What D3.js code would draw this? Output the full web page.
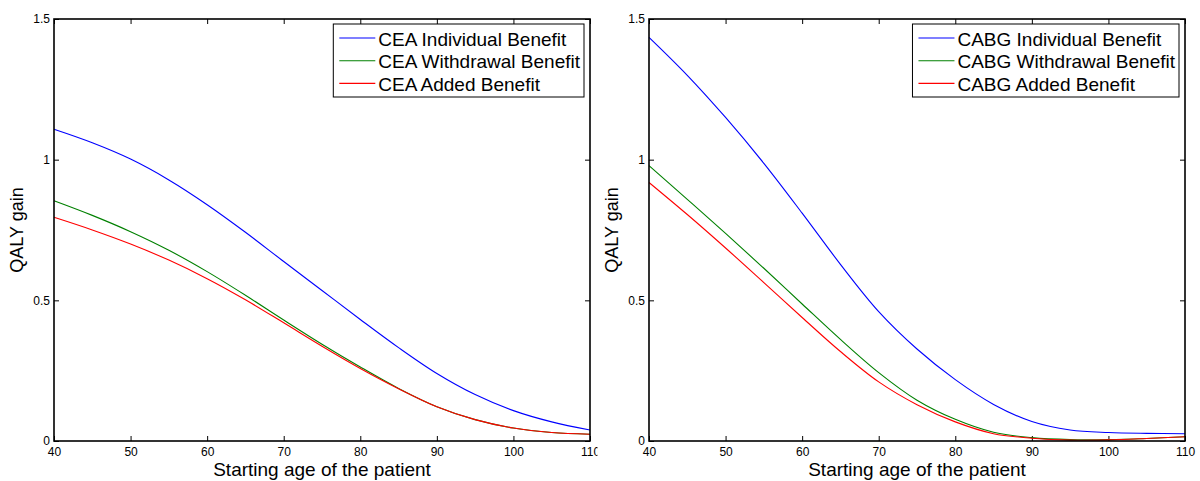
<!DOCTYPE html>
<html>
<head>
<meta charset="utf-8">
<script src="https://cdn.jsdelivr.net/npm/d3@7"></script>
<style>
  html, body { margin: 0; padding: 0; background: #fff; }
  svg { display: block; font-family: "Liberation Sans", Arial, Helvetica, sans-serif; }
</style>
</head>
<body>
<svg id="fig" width="1200" height="481"></svg>
<script>
// Starting ages (years) at which QALY gains were evaluated
const ages = [40, 45, 50, 55, 60, 65, 70, 75, 80, 85, 90, 95, 100, 105, 110];

// Carotid endarterectomy (CEA)
const ceaIndividual = [1.108, 1.060, 1.002, 0.928, 0.840, 0.742, 0.638, 0.535, 0.432, 0.332, 0.240, 0.165, 0.108, 0.068, 0.039];
const ceaWithdrawal = [0.854, 0.802, 0.744, 0.678, 0.602, 0.518, 0.430, 0.344, 0.263, 0.187, 0.122, 0.076, 0.046, 0.030, 0.024];
const ceaAdded      = [0.795, 0.750, 0.700, 0.643, 0.577, 0.502, 0.420, 0.337, 0.258, 0.186, 0.122, 0.076, 0.046, 0.030, 0.024];

// Coronary artery bypass graft (CABG)
const cabgIndividual = [1.435, 1.300, 1.150, 0.987, 0.810, 0.628, 0.460, 0.327, 0.218, 0.130, 0.069, 0.039, 0.030, 0.027, 0.026];
const cabgWithdrawal = [0.979, 0.859, 0.738, 0.614, 0.487, 0.361, 0.243, 0.145, 0.077, 0.031, 0.012, 0.005, 0.005, 0.009, 0.015];
const cabgAdded      = [0.919, 0.805, 0.686, 0.563, 0.439, 0.318, 0.210, 0.129, 0.068, 0.026, 0.010, 0.003, 0.004, 0.009, 0.015];

const ceaLabels  = ["CEA Individual Benefit", "CEA Withdrawal Benefit", "CEA Added Benefit"];
const cabgLabels = ["CABG Individual Benefit", "CABG Withdrawal Benefit", "CABG Added Benefit"];

const xTicks = [40, 50, 60, 70, 80, 90, 100, 110];
const yTicks = [0, 0.5, 1, 1.5];
const xDomain = [40, 110];
const yDomain = [0, 1.5];

const seriesColors = ["#0000ff", "#008000", "#ff0000"];
const xTitle = "Starting age of the patient";
const yTitle = "QALY gain";

const svg = d3.select("#fig");

// Left panel's tick labels run past its own image edge; clip them there
svg.append("defs").append("clipPath").attr("id", "leftClip")
  .append("rect").attr("x", 0).attr("y", 0).attr("width", 597.5).attr("height", 481);

function drawPanel(box, seriesList, labels, clipId) {
  const g = svg.append("g");
  if (clipId) g.attr("clip-path", `url(#${clipId})`);

  const x = d3.scaleLinear().domain(xDomain).range([box.x0, box.x1]);
  const y = d3.scaleLinear().domain(yDomain).range([box.y1, box.y0]);
  const fmt = d => String(d);

  const tickLen = 5;
  const styleAxis = sel => {
    sel.select(".domain").remove();
    sel.selectAll(".tick line").attr("stroke", "#000").attr("stroke-width", 1);
    sel.selectAll(".tick text").attr("fill", "#000").style("font-size", "12px")
      .style("font-family", "\"Liberation Sans\", Arial, sans-serif");
  };

  // Bottom and left axes with inward ticks and labels
  g.append("g").attr("transform", `translate(0,${box.y1})`)
    .call(d3.axisBottom(x).tickValues(xTicks).tickFormat(fmt).tickSizeInner(-tickLen).tickSizeOuter(0).tickPadding(6))
    .call(styleAxis);
  g.append("g").attr("transform", `translate(${box.x0},0)`)
    .call(d3.axisLeft(y).tickValues(yTicks).tickFormat(fmt).tickSizeInner(-tickLen).tickSizeOuter(0).tickPadding(4))
    .call(styleAxis);
  // Mirrored ticks on top and right
  g.append("g").attr("transform", `translate(0,${box.y0})`)
    .call(d3.axisTop(x).tickValues(xTicks).tickFormat("").tickSizeInner(-tickLen).tickSizeOuter(0))
    .call(styleAxis);
  g.append("g").attr("transform", `translate(${box.x1},0)`)
    .call(d3.axisRight(y).tickValues(yTicks).tickFormat("").tickSizeInner(-tickLen).tickSizeOuter(0))
    .call(styleAxis);

  // Curves
  const line = d3.line()
    .x((d, i) => x(ages[i]))
    .y(d => y(d))
    .curve(d3.curveCatmullRom.alpha(0.5));
  seriesList.forEach((s, k) => {
    g.append("path").datum(s)
      .attr("d", line)
      .attr("fill", "none")
      .attr("stroke", seriesColors[k])
      .attr("stroke-width", 1.1);
  });

  // Axes box
  g.append("rect")
    .attr("x", box.x0).attr("y", box.y0)
    .attr("width", box.x1 - box.x0).attr("height", box.y1 - box.y0)
    .attr("fill", "none").attr("stroke", "#000").attr("stroke-width", 1.6);

  // Axis titles
  g.append("text")
    .attr("x", (box.x0 + box.x1) / 2).attr("y", box.y1 + 35)
    .attr("text-anchor", "middle").style("font-size", "19px").attr("fill", "#000")
    .text(xTitle);
  g.append("text")
    .attr("transform", `translate(${box.x0 - 31},${(box.y0 + box.y1) / 2}) rotate(-90)`)
    .attr("text-anchor", "middle").style("font-size", "18px").attr("fill", "#000")
    .text(yTitle);

  // Legend
  const lg = g.append("g");
  const rowH = 22.7;
  const frame = lg.append("rect").attr("fill", "#fff").attr("stroke", "#000").attr("stroke-width", 1);
  const texts = labels.map((lab, i) =>
    lg.append("text").attr("x", 45).attr("y", 21.5 + i * rowH)
      .style("font-size", "19px").attr("fill", "#000").text(lab));
  labels.forEach((lab, i) => {
    lg.append("line").attr("x1", 6).attr("x2", 42)
      .attr("y1", 14 + i * rowH).attr("y2", 14 + i * rowH)
      .attr("stroke", seriesColors[i]).attr("stroke-width", 1.1);
  });
  const maxW = d3.max(texts, t => t.node().getComputedTextLength());
  const w = 45 + maxW + 4;
  const h = 73;
  frame.attr("x", 0).attr("y", 0).attr("width", w).attr("height", h);
  lg.attr("transform", `translate(${box.x1 - 6 - w},${box.y0 + 5})`);
}

drawPanel({ x0: 54, x1: 590, y0: 19, y1: 441 },
  [ceaIndividual, ceaWithdrawal, ceaAdded], ceaLabels, "leftClip");
drawPanel({ x0: 649, x1: 1185, y0: 19, y1: 441 },
  [cabgIndividual, cabgWithdrawal, cabgAdded], cabgLabels, null);
</script>
</body>
</html>
